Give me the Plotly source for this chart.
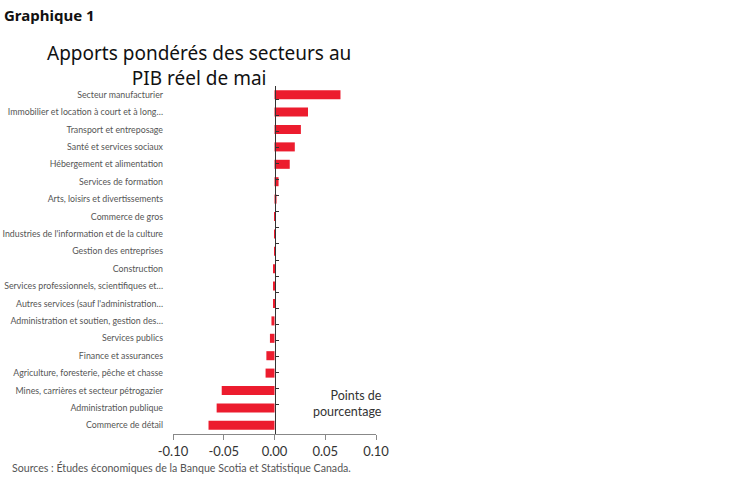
import plotly.graph_objects as go

# sectors, top to bottom as shown
sectors = [
    "Secteur manufacturier",
    "Immobilier et location à court et à long…",
    "Transport et entreposage",
    "Santé et services sociaux",
    "Hébergement et alimentation",
    "Services de formation",
    "Arts, loisirs et divertissements",
    "Commerce de gros",
    "Industries de l'information et de la culture",
    "Gestion des entreprises",
    "Construction",
    "Services professionnels, scientifiques et…",
    "Autres services (sauf l'administration…",
    "Administration et soutien, gestion des…",
    "Services publics",
    "Finance et assurances",
    "Agriculture, foresterie, pêche et chasse",
    "Mines, carrières et secteur pétrogazier",
    "Administration publique",
    "Commerce de détail",
]
# weighted contribution, percentage points
contrib = [
    0.065, 0.033, 0.026, 0.020, 0.015, 0.004, 0.002, 0.0015, 0.0003, -0.0004,
    -0.0005, -0.0006, -0.0015, -0.003, -0.0045, -0.008, -0.0088, -0.052, -0.057, -0.065,
]
x_ticks = [-0.10, -0.05, 0.0, 0.05, 0.10]
x_labels = ["-0.10", "-0.05", "0.00", "0.05", "0.10"]

RED = "#EC1C2E"
W, H = 748, 483
# plot area in screen pixels
PL, PR, PT, PB = 173, 376, 86, 434
L, R, T, B = PL, W - PR, PT, H - PB
x_min, x_max = -0.10, 0.10
zero_pos = (0 - x_min) / (x_max - x_min)


def px_x(sx):
    return (sx - PL) / (PR - PL)


def px_y(sy):
    return (PB - sy) / (PB - PT)


fig = go.Figure()
fig.add_trace(go.Bar(
    x=contrib, y=sectors, orientation="h",
    marker=dict(color=RED, line=dict(width=0)),
    hoverinfo="x+y",
))
# invisible copy on the zero-line axis so it gets the categories
fig.add_trace(go.Scatter(
    x=contrib, y=sectors, yaxis="y2", mode="markers",
    marker=dict(opacity=0), hoverinfo="skip", showlegend=False,
))

fig.update_layout(
    width=W, height=H,
    margin=dict(l=L, r=R, t=T, b=B, autoexpand=False),
    plot_bgcolor="white", paper_bgcolor="white",
    showlegend=False,
    bargap=0.48,
    font=dict(family="Lato, 'Open Sans', sans-serif", color="#444"),
    xaxis=dict(
        range=[x_min, x_max], tickvals=x_ticks, ticktext=x_labels,
        showgrid=False, zeroline=False,
        showline=True, linecolor="#888", linewidth=1,
        ticks="outside", ticklen=5, tickcolor="#888",
        tickfont=dict(size=13, color="#333"),
    ),
    yaxis=dict(
        autorange="reversed", showgrid=False, zeroline=False, showline=False,
        ticks="", ticklabelstandoff=9,
        tickfont=dict(size=8.8, color="#555"),
    ),
    yaxis2=dict(
        overlaying="y", anchor="free", position=zero_pos,
        categoryorder="array", categoryarray=sectors,
        autorange="reversed",
        showgrid=False, zeroline=False, showticklabels=False,
        showline=True, linecolor="#333", linewidth=1,
        ticks="inside", tickson="boundaries", ticklen=3, tickcolor="#333",
    ),
)

fig.add_annotation(
    text="<b>Graphique 1</b>", xref="paper", yref="paper",
    x=px_x(2), y=px_y(15),
    xanchor="left", yanchor="middle", showarrow=False,
    font=dict(family="'Noto Sans', sans-serif", size=15, color="#111"),
)
fig.add_annotation(
    text="Apports pondérés des secteurs au<br>PIB réel de mai",
    xref="paper", yref="paper",
    x=px_x(199), y=px_y(65),
    xanchor="center", yanchor="middle", showarrow=False,
    font=dict(family="'Noto Sans', sans-serif", size=19, color="#111"),
)
fig.add_annotation(
    text="Points de<br>pourcentage", xref="paper", yref="paper",
    x=px_x(384), y=px_y(403), align="right",
    xanchor="right", yanchor="middle", showarrow=False,
    font=dict(size=12.5, color="#333"),
)
fig.add_annotation(
    text="Sources : Études économiques de la Banque Scotia et Statistique Canada.",
    xref="paper", yref="paper",
    x=px_x(10), y=px_y(467),
    xanchor="left", yanchor="middle", showarrow=False,
    font=dict(size=10.6, color="#555"),
)

# drop the browser's default body margin so the figure sits at the page corner
fig.write_html(
    "out.html",
    config={"displayModeBar": False},
    post_script="document.body.style.margin = '0';",
)
